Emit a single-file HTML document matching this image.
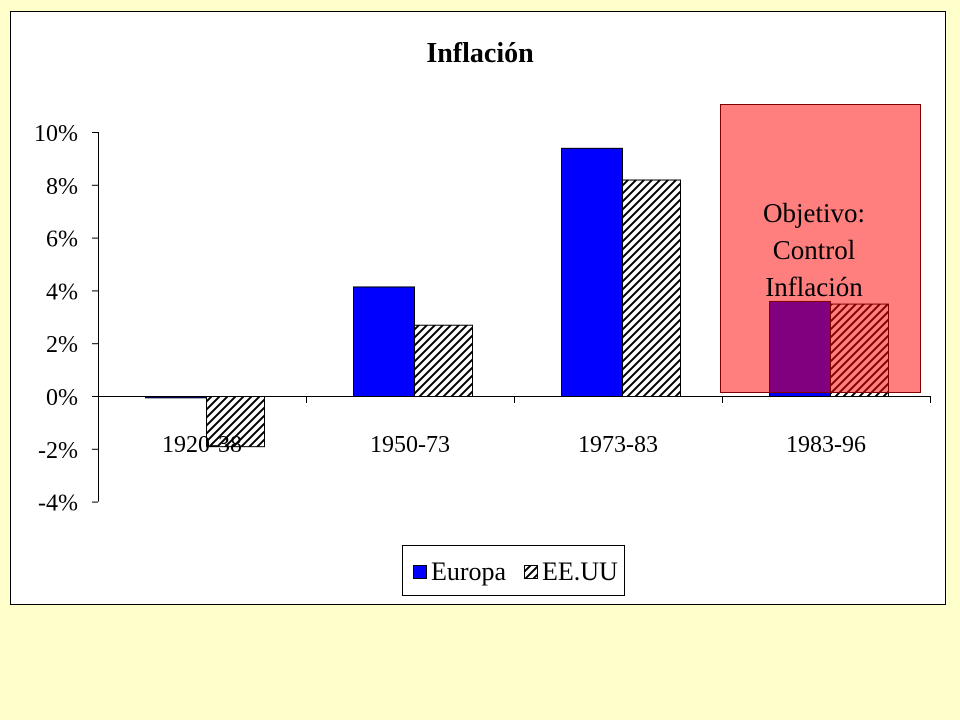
<!DOCTYPE html>
<html><head><meta charset="utf-8"><style>
body{margin:0;background:#FFFFCC;}
svg{display:block;font-family:"Liberation Serif",serif;}
</style></head><body>
<svg id="c" width="960" height="720">
<defs>
<pattern id="hatch" patternUnits="userSpaceOnUse" width="8" height="8">
<rect width="8" height="8" fill="#fff"/>
<path d="M-2,2 L2,-2 M0,8 L8,0 M6,10 L10,6" stroke="#000" stroke-width="2"/>
</pattern>
</defs>
<rect x="10.5" y="11.5" width="935" height="593" fill="#fff" stroke="#000"/>
<text x="480" y="62" text-anchor="middle" font-size="28" font-weight="bold">Inflación</text>
<g id="plot"></g>
<rect x="402.5" y="545.5" width="222" height="50" fill="#fff" stroke="#000"/>
<g>
<rect x="413.5" y="565.5" width="13" height="13" fill="#0000FF" stroke="#000"/>
<text x="431" y="580" font-size="26">Europa</text></g>
<g>
<rect x="524.5" y="565.5" width="13" height="13" fill="url(#hatch)" stroke="#000"/>
<text x="542" y="580" font-size="26">EE.UU</text></g>
</svg>
<script>
const categories=["1920-38","1950-73","1973-83","1983-96"];
const europa=[-0.05,4.15,9.4,3.6];
const eeuu=[-1.9,2.7,8.2,3.5];
const ticks=[10,8,6,4,2,0,-2,-4];
const NS="http://www.w3.org/2000/svg";
const g=document.getElementById('plot');
const x0=98,x1=930,band=(x1-x0)/categories.length;
const y=v=>396-v*26.4;
function mk(t,a,p){const e=document.createElementNS(NS,t);for(const k in a)e.setAttribute(k,a[k]);(p||g).appendChild(e);return e;}
categories.forEach((c,i)=>{
 const bx=x0+i*band;
 const e=mk('rect',{x:bx+47.5,y:Math.min(y(europa[i]),y(0))+.5,width:61,height:Math.max(Math.abs(y(europa[i])-y(0)),1),fill:'#0000FF',stroke:'#000'});
 
 
 const u=mk('rect',{x:bx+108.5,y:Math.min(y(eeuu[i]),y(0))+.5,width:58,height:Math.abs(y(eeuu[i])-y(0)),fill:'url(#hatch)',stroke:'#000'});
 
 
 const t=mk('text',{x:bx+band/2,y:452,'text-anchor':'middle','font-size':24});
 t.textContent=c;
 
 
 mk('line',{x1:bx+band+.5,x2:bx+band+.5,y1:396,y2:403,stroke:'#000'});
});
const ax=mk('line',{x1:x0,x2:x1,y1:396.5,y2:396.5,stroke:'#000'});


const ay=mk('line',{x1:x0+.5,x2:x0+.5,y1:y(10),y2:y(-4),stroke:'#000'});


ticks.forEach(v=>{
 mk('line',{x1:x0-6,x2:x0,y1:y(v)+.5,y2:y(v)+.5,stroke:'#000'});
 const t=mk('text',{x:78,y:y(v)+9,'text-anchor':'end','font-size':24});
 t.textContent=v+'%';
 
 
});
const ov=mk('rect',{x:720.5,y:104.5,width:200,height:288,fill:'#FF0000','fill-opacity':0.5,stroke:'#800000'});


["Objetivo:","Control","Inflación"].forEach((s,i)=>{
 const t=mk('text',{x:814,y:222+i*37,'text-anchor':'middle','font-size':27});
 t.textContent=s;
 
 
});
</script>
</body></html>
